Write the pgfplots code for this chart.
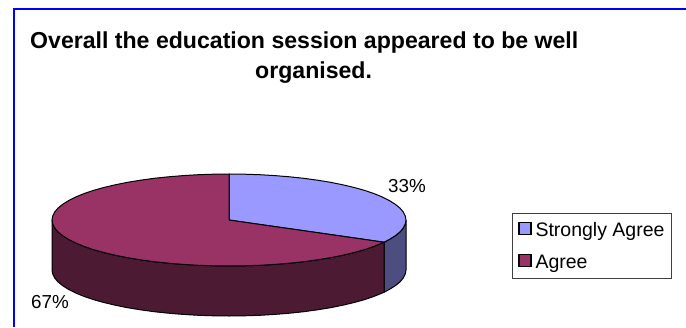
\documentclass[border=0pt]{standalone}
\usepackage{pgfplots}
\pgfplotsset{compat=1.18}
\usepackage{fontspec}
\setmainfont{Liberation Sans}
\definecolor{sagreeTop}{HTML}{9999FF}
\definecolor{sagreeSide}{HTML}{4D4D80}
\definecolor{agreeTop}{HTML}{993366}
\definecolor{agreeSide}{HTML}{4D1A33}
\definecolor{frameBlue}{HTML}{0000FF}
\begin{document}
\begin{tikzpicture}[x=1pt,y=1pt]
\path[use as bounding box] (0,0) rectangle (686,327);
\begin{axis}[
  anchor=south west, at={(0pt,0pt)},
  width=686pt, height=327pt, scale only axis,
  xmin=0, xmax=686, ymin=0, ymax=327, y dir=reverse,
  hide axis, clip=false,
  legend style={at={(axis cs:512,213)}, anchor=north west, draw=black!75, line width=0.9pt,
    font=\fontsize{19.5}{22}\selectfont, inner xsep=3pt, inner ysep=7.5pt,
    row sep=15pt, nodes={inner xsep=4pt, inner ysep=1pt, yshift=-1.5pt}},
  legend cell align=left,
  legend image code/.code={\path[draw=none,fill=none] (0pt,0pt) -- (3.5pt,0pt);\draw[#1, line width=1.1pt] (3.5pt,-6pt) rectangle (15.5pt,6pt);},
]
% blue chart frame
\addplot[forget plot, frameBlue, line width=2pt] coordinates {(13.5,327) (13.5,9.3) (686,9.3)};
% side wall, Strongly Agree slice
\addplot[forget plot, fill=sagreeSide, draw=black, line width=1pt] coordinates {
 (406,220) (405.3,224) (403.3,228) (400,231.9) (395.3,235.7) (389.4,239.4) (384.1,242.2)
 (384.1,292.2) (389.4,289.4) (395.3,285.7) (400,281.9) (403.3,278) (405.3,274) (406,270) (406,220)};
% side wall, Agree slice
\addplot[forget plot, fill=agreeSide, draw=black, line width=1pt] coordinates {
 (384.1,242.2) (382.3,243) (374,246.4) (364.6,249.6) (354.2,252.5) (342.8,255.2) (330.5,257.7)
 (317.5,259.8) (303.8,261.7) (289.5,263.2) (274.8,264.4) (259.7,265.3) (244.4,265.8) (229,266)
 (213.6,265.8) (198.3,265.3) (183.2,264.4) (168.5,263.2) (154.2,261.7) (140.5,259.8) (127.5,257.7)
 (115.2,255.2) (103.8,252.5) (93.4,249.6) (84,246.4) (75.7,243) (68.6,239.4) (62.7,235.7)
 (58,231.9) (54.7,228) (52.7,224) (52,220)
 (52,270) (52.7,274) (54.7,278) (58,281.9) (62.7,285.7) (68.6,289.4) (75.7,293) (84,296.4)
 (93.4,299.6) (103.8,302.5) (115.2,305.2) (127.5,307.7) (140.5,309.8) (154.2,311.7) (168.5,313.2)
 (183.2,314.4) (198.3,315.3) (213.6,315.8) (229,316) (244.4,315.8) (259.7,315.3) (274.8,314.4)
 (289.5,313.2) (303.8,311.7) (317.5,309.8) (330.5,307.7) (342.8,305.2) (354.2,302.5) (364.6,299.6)
 (374,296.4) (382.3,293) (384.1,292.2) (384.1,242.2)};
% top face: 33 percent slice, clockwise from twelve o'clock
\addplot[fill=sagreeTop, draw=black, line width=1pt] coordinates {
 (229,220) (229,174) (244.4,174.2) (259.7,174.7) (274.8,175.6) (289.5,176.8) (303.8,178.3)
 (317.5,180.2) (330.5,182.3) (342.8,184.8) (354.2,187.5) (364.6,190.4) (374,193.6) (382.3,197)
 (389.4,200.6) (395.3,204.3) (400,208.1) (403.3,212) (405.3,216) (406,220) (405.3,224)
 (403.3,228) (400,231.9) (395.3,235.7) (389.4,239.4) (384.1,242.2) (229,220)};
\addlegendentry{Strongly Agree}
% top face: 67 percent slice
\addplot[fill=agreeTop, draw=black, line width=1pt] coordinates {
 (229,220) (384.1,242.2) (382.3,243) (374,246.4) (364.6,249.6) (354.2,252.5) (342.8,255.2)
 (330.5,257.7) (317.5,259.8) (303.8,261.7) (289.5,263.2) (274.8,264.4) (259.7,265.3) (244.4,265.8)
 (229,266) (213.6,265.8) (198.3,265.3) (183.2,264.4) (168.5,263.2) (154.2,261.7) (140.5,259.8)
 (127.5,257.7) (115.2,255.2) (103.8,252.5) (93.4,249.6) (84,246.4) (75.7,243) (68.6,239.4)
 (62.7,235.7) (58,231.9) (54.7,228) (52.7,224) (52,220) (52.7,216) (54.7,212) (58,208.1)
 (62.7,204.3) (68.6,200.6) (75.7,197) (84,193.6) (93.4,190.4) (103.8,187.5) (115.2,184.8)
 (127.5,182.3) (140.5,180.2) (154.2,178.3) (168.5,176.8) (183.2,175.6) (198.3,174.7) (213.6,174.2)
 (229,174) (229,220)};
\addlegendentry{Agree}
% chart title and slice percentages
\node[anchor=base west, inner sep=0pt, font=\fontsize{23.1}{26}\selectfont\bfseries] at (axis cs:30,48) {Overall the education session appeared to be well};
\node[anchor=base west, inner sep=0pt, font=\fontsize{23.1}{26}\selectfont\bfseries] at (axis cs:255,78) {organised.};
\node[anchor=base west, inner sep=0pt, font=\fontsize{18.8}{22}\selectfont] at (axis cs:388,192) {33\%};
\node[anchor=base west, inner sep=0pt, font=\fontsize{18.8}{22}\selectfont] at (axis cs:31,308) {67\%};
\end{axis}
\end{tikzpicture}
\end{document}
